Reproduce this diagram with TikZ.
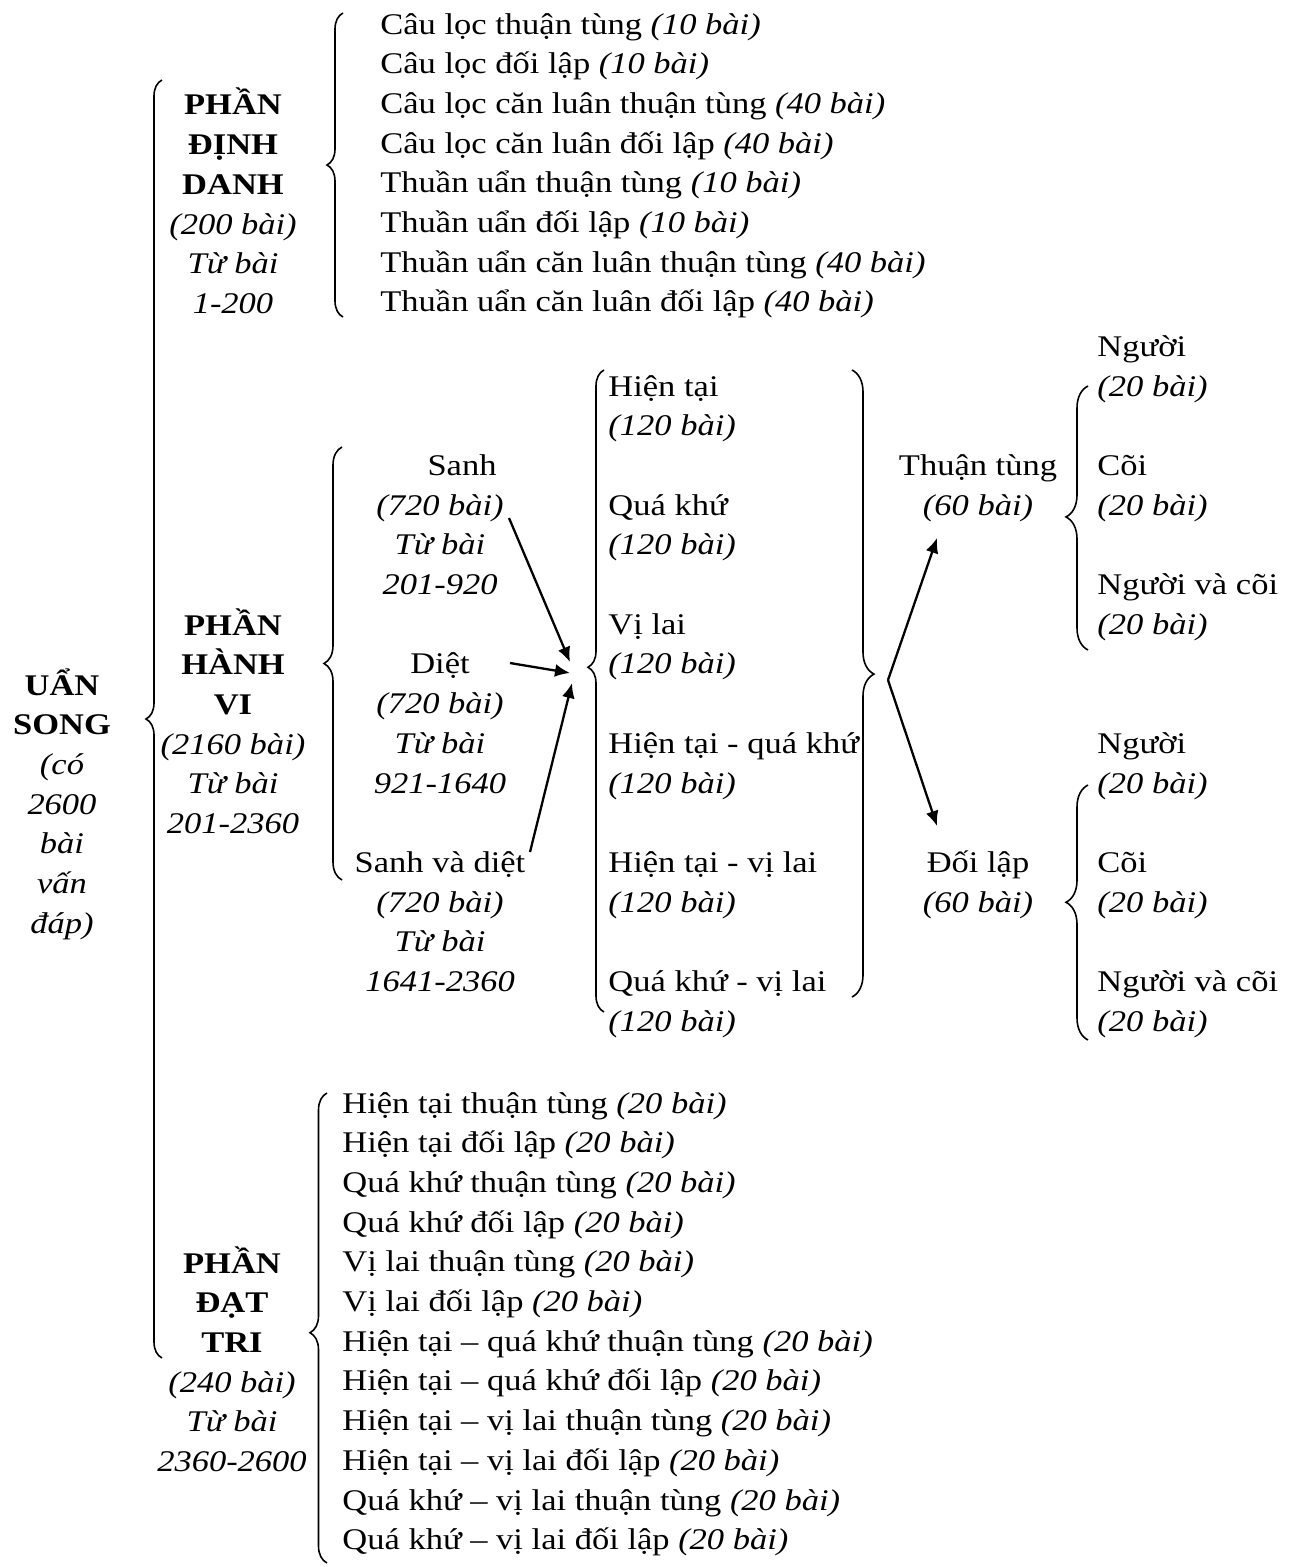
\documentclass[tikz,border=0pt]{standalone}
\usepackage{fontspec}
\setmainfont{Liberation Serif}[FakeStretch=1.15]
\usetikzlibrary{decorations.pathreplacing,arrows.meta}
\begin{document}
\begin{tikzpicture}[x=0.5pt,y=-0.5pt,
  txt/.style={font=\fontsize{15}{19.85}\selectfont, inner sep=0pt, anchor=base},
  ctr/.style={txt, align=center},
  lft/.style={txt, align=left, anchor=base west},
  brc/.style={line width=0.8pt, decorate, decoration={brace, amplitude=#1}},
  brc/.default=8pt,
  arr/.style={line width=1.15pt, -{Latex[length=7.5pt,width=6.5pt]}}]
\useasboundingbox (0,0) rectangle (1290,1567);

% ---------- root ----------
\node[ctr] (uansong) at (62,933.2) {\textbf{UẨN}\\\textbf{SONG}\\\textit{(có}\\\textit{2600}\\\textit{bài}\\\textit{vấn}\\\textit{đáp)}};
\draw[brc=8pt, decoration={aspect=0.5}] (162,1358) -- (162,80);

% ---------- phan dinh danh ----------
\node[ctr] (dinhdanh) at (233,313.5) {\textbf{PHẦN}\\\textbf{ĐỊNH}\\\textbf{DANH}\\\textit{(200 bài)}\\\textit{Từ bài}\\\textit{1-200}};
\draw[brc=8pt, decoration={aspect=0.5}] (343,317) -- (343,13);
\node[lft] (dinhlist) at (380,312) {Câu lọc thuận tùng \textit{(10 bài)}\\
Câu lọc đối lập \textit{(10 bài)}\\
Câu lọc căn luân thuận tùng \textit{(40 bài)}\\
Câu lọc căn luân đối lập \textit{(40 bài)}\\
Thuần uẩn thuận tùng \textit{(10 bài)}\\
Thuần uẩn đối lập \textit{(10 bài)}\\
Thuần uẩn căn luân thuận tùng \textit{(40 bài)}\\
Thuần uẩn căn luân đối lập \textit{(40 bài)}};

% ---------- phan hanh vi ----------
\node[ctr] (hanhvi) at (233,833.5) {\textbf{PHẦN}\\\textbf{HÀNH}\\\textbf{VI}\\\textit{(2160 bài)}\\\textit{Từ bài}\\\textit{201-2360}};
\draw[brc=9pt, decoration={aspect=0.5}] (342,880) -- (342,447);
\node[ctr] (sanh) at (440,594.5) {\hspace*{22pt}Sanh\\\textit{(720 bài)}\\\textit{Từ bài}\\\textit{201-920}};
\node[ctr] (diet) at (440,793) {Diệt\\\textit{(720 bài)}\\\textit{Từ bài}\\\textit{921-1640}};
\node[ctr] (sanhdiet) at (440,991.5) {Sanh và diệt\\\textit{(720 bài)}\\\textit{Từ bài}\\\textit{1641-2360}};

\coordinate (s1) at (509,518);
\coordinate (e1) at (570,662);
\coordinate (s2) at (510,663);
\coordinate (e2) at (570,673);
\coordinate (s3) at (530,852);
\coordinate (e3) at (572,683);
\draw[arr] (s1) -- (e1);
\draw[arr] (s2) -- (e2);
\draw[arr] (s3) -- (e3);

\draw[brc=8pt, decoration={aspect=0.537}] (604,1012) -- (604,370);
\node[lft] (ht) at (608,435.7) {Hiện tại\\\textit{(120 bài)}};
\node[lft] (qk) at (608,554.8) {Quá khứ\\\textit{(120 bài)}};
\node[lft] (vl) at (608,673.9) {Vị lai\\\textit{(120 bài)}};
\node[lft] (htqk) at (608,793) {Hiện tại - quá khứ\\\textit{(120 bài)}};
\node[lft] (htvl) at (608,912.1) {Hiện tại - vị lai\\\textit{(120 bài)}};
\node[lft] (qkvl) at (608,1031.2) {Quá khứ - vị lai\\\textit{(120 bài)}};
\draw[brc=11pt, decoration={aspect=0.485}] (852,370) -- (852,997);

\coordinate (split) at (888,680);
\coordinate (ttend) at (937,538);
\coordinate (dlend) at (937,826);
\draw[arr] (split) -- (ttend);
\draw[arr] (split) -- (dlend);

\node[ctr] (thuantung) at (978,515.1) {Thuận tùng\\\textit{(60 bài)}};
\node[ctr] (doilap) at (978,912.1) {Đối lập\\\textit{(60 bài)}};

\draw[brc=11pt, decoration={aspect=0.504}] (1088,650) -- (1088,386);
\node[lft] (ng1) at (1097,396) {Người\\\textit{(20 bài)}};
\node[lft] (coi1) at (1097,515.1) {Cõi\\\textit{(20 bài)}};
\node[lft] (ngc1) at (1097,634.2) {Người và cõi\\\textit{(20 bài)}};

\draw[brc=11pt, decoration={aspect=0.54}] (1088,1040) -- (1088,785);
\node[lft] (ng2) at (1097,793) {Người\\\textit{(20 bài)}};
\node[lft] (coi2) at (1097,912.1) {Cõi\\\textit{(20 bài)}};
\node[lft] (ngc2) at (1097,1031.2) {Người và cõi\\\textit{(20 bài)}};

% ---------- phan dat tri ----------
\node[ctr] (dattri) at (232,1471.5) {\textbf{PHẦN}\\\textbf{ĐẠT}\\\textbf{TRI}\\\textit{(240 bài)}\\\textit{Từ bài}\\\textit{2360-2600}};
\draw[brc=8.5pt, decoration={aspect=0.49}] (327,1563) -- (327,1093);
\node[lft] (dattrilist) at (342,1549.7) {Hiện tại thuận tùng \textit{(20 bài)}\\
Hiện tại đối lập \textit{(20 bài)}\\
Quá khứ thuận tùng \textit{(20 bài)}\\
Quá khứ đối lập \textit{(20 bài)}\\
Vị lai thuận tùng \textit{(20 bài)}\\
Vị lai đối lập \textit{(20 bài)}\\
Hiện tại – quá khứ thuận tùng \textit{(20 bài)}\\
Hiện tại – quá khứ đối lập \textit{(20 bài)}\\
Hiện tại – vị lai thuận tùng \textit{(20 bài)}\\
Hiện tại – vị lai đối lập \textit{(20 bài)}\\
Quá khứ – vị lai thuận tùng \textit{(20 bài)}\\
Quá khứ – vị lai đối lập \textit{(20 bài)}};
\end{tikzpicture}
\end{document}
